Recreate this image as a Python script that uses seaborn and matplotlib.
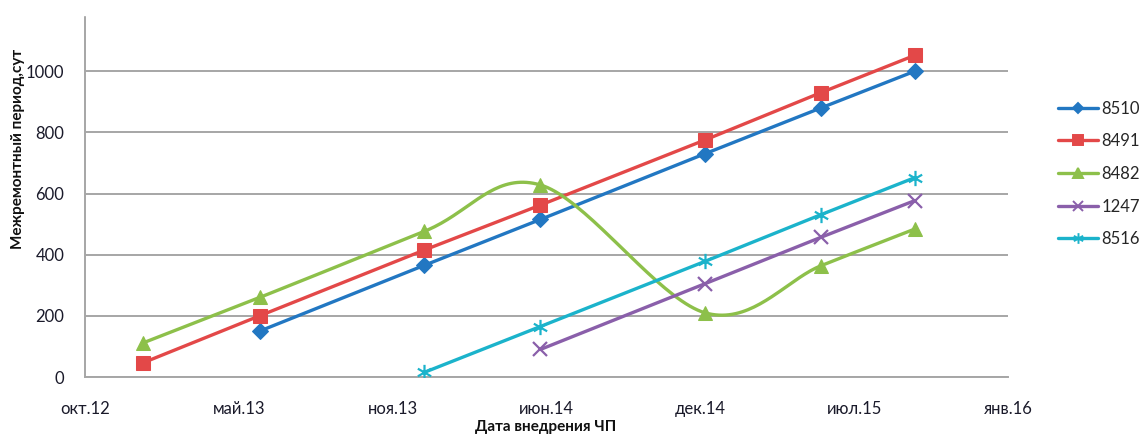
import numpy as np
import pandas as pd
import matplotlib
matplotlib.use("Agg")
import matplotlib.pyplot as plt
import matplotlib.dates as mdates
from matplotlib.path import Path
from matplotlib.lines import Line2D
import seaborn as sns

# --- data -------------------------------------------------------------
dates_8510 = ["2013-05-31", "2013-12-31", "2014-05-31", "2014-12-31", "2015-05-31", "2015-09-30"]
vals_8510 = [150, 365, 515, 730, 880, 1000]

dates_8491 = ["2012-12-31", "2013-05-31", "2013-12-31", "2014-05-31", "2014-12-31", "2015-05-31", "2015-09-30"]
vals_8491 = [47, 200, 415, 562, 775, 930, 1052]

dates_8482 = ["2012-12-31", "2013-05-31", "2013-12-31", "2014-05-31", "2014-12-31", "2015-05-31", "2015-09-30"]
vals_8482 = [112, 260, 476, 628, 210, 364, 484]

dates_1247 = ["2014-05-31", "2014-12-31", "2015-05-31", "2015-09-30"]
vals_1247 = [90, 305, 457, 577]

dates_8516 = ["2013-12-31", "2014-05-31", "2014-12-31", "2015-05-31", "2015-09-30"]
vals_8516 = [15, 165, 378, 531, 652]

axis_start = "2012-10-16"
tick_step_days = 200
tick_labels = ["окт.12", "май.13", "ноя.13", "июн.14", "дек.14", "июл.15", "янв.16"]
y_ticks = [0, 200, 400, 600, 800, 1000, 1200]

# --- styling ----------------------------------------------------------
sns.set_theme(style="white")
plt.rcParams["font.family"] = ["Lato", "DejaVu Sans"]

colors = {
    "8510": "#2277C2",
    "8491": "#E34848",
    "8482": "#8DC04A",
    "1247": "#8A5FAA",
    "8516": "#1BB3CB",
}

# six-spoke star marker (x with a vertical bar)
star_path = Path(
    [(0, -1), (0, 1), (-0.87, -0.5), (0.87, 0.5), (-0.87, 0.5), (0.87, -0.5)],
    [Path.MOVETO, Path.LINETO, Path.MOVETO, Path.LINETO, Path.MOVETO, Path.LINETO],
)

LW = 2.4
TICK_FS = 12

fig = plt.figure(figsize=(11.42, 4.37), dpi=100)
ax = fig.add_axes([85 / 1142, 60 / 437, (1008 - 85) / 1142, (377 - 10) / 437])


def frame(dates, vals):
    return pd.DataFrame({"date": pd.to_datetime(dates), "value": vals})


def smooth_curve(dates, vals, n=40):
    """Piecewise cubic Bezier through the points (Catmull-Rom style tangents)."""
    x = mdates.date2num(pd.to_datetime(dates))
    y = np.asarray(vals, dtype=float)
    P = np.column_stack([x, y])
    m = len(P)
    out = []
    t = np.linspace(0, 1, n)[:, None]
    for i in range(m - 1):
        p0 = P[i - 1] if i > 0 else P[i]
        p1, p2 = P[i], P[i + 1]
        p3 = P[i + 2] if i + 2 < m else P[i + 1]
        c1 = p1 + (p2 - p0) / 6
        c2 = p2 - (p3 - p1) / 6
        seg = ((1 - t) ** 3) * p1 + 3 * ((1 - t) ** 2) * t * c1 + 3 * (1 - t) * t ** 2 * c2 + t ** 3 * p2
        out.append(seg if i == 0 else seg[1:])
    pts = np.vstack(out)
    return pd.DataFrame({"date": mdates.num2date(pts[:, 0]), "value": pts[:, 1]})


series = [
    ("8510", dates_8510, vals_8510, "D", 8),
    ("8491", dates_8491, vals_8491, "s", 10),
    ("8482", dates_8482, vals_8482, "^", 10),
    ("1247", dates_1247, vals_1247, "x", 10),
    ("8516", dates_8516, vals_8516, star_path, 11),
]

handles = []
for name, d, v, mk, ms in series:
    c = colors[name]
    df = frame(d, v)
    if name == "8482":
        curve = smooth_curve(d, v)
        sns.lineplot(data=curve, x="date", y="value", ax=ax, color=c, lw=LW,
                     sort=False, estimator=None, zorder=3)
        sns.lineplot(data=df, x="date", y="value", ax=ax, color=c, lw=0,
                     marker=mk, markersize=ms, markeredgecolor=c,
                     estimator=None, zorder=4)
    elif mk in ("x",) or mk is star_path:
        sns.lineplot(data=df, x="date", y="value", ax=ax, color=c, lw=LW,
                     marker=mk, markersize=ms, markeredgecolor=c,
                     markeredgewidth=1.6, estimator=None, zorder=3)
    else:
        sns.lineplot(data=df, x="date", y="value", ax=ax, color=c, lw=LW,
                     marker=mk, markersize=ms, markeredgecolor=c,
                     estimator=None, zorder=3)
    handles.append(Line2D([0], [0], color=c, lw=LW, marker=mk,
                          markersize=ms * 0.7, markeredgecolor=c,
                          markeredgewidth=1.4, label=name))

# --- axes -------------------------------------------------------------
start = pd.Timestamp(axis_start)
ticks = [start + pd.Timedelta(days=tick_step_days * k) for k in range(len(tick_labels))]
ax.set_xlim(mdates.date2num(ticks[0]), mdates.date2num(ticks[-1]))
ax.set_xticks(mdates.date2num(ticks))
ax.set_xticklabels(tick_labels, fontsize=TICK_FS, color="#1a1a2a")

ax.set_ylim(0, 1200)
ax.set_yticks(y_ticks)
ax.set_yticklabels([str(t) for t in y_ticks], fontsize=TICK_FS, color="#1a1a2a")

ax.tick_params(axis="x", length=0, pad=17)
ax.tick_params(axis="y", length=0, pad=15)

ax.grid(axis="y", color="#A6A6A6", lw=1.4)
ax.grid(axis="x", visible=False)
for side in ("top", "right"):
    ax.spines[side].set_visible(False)
for side in ("left", "bottom"):
    ax.spines[side].set_color("#A6A6A6")
    ax.spines[side].set_linewidth(1.4)
ax.set_xlabel("")
ax.set_ylabel("")

fig.text(18 / 1142, 1 - 149 / 437, "Межремонтный период,сут", rotation=90,
         ha="center", va="center", fontsize=11, fontweight="bold", color="#111111")
fig.text(546 / 1142, 1 - 427 / 437, "Дата внедрения ЧП",
         ha="center", va="center", fontsize=11, fontweight="bold", color="#111111")

leg = fig.legend(handles=handles, loc="center left",
                 bbox_to_anchor=(1058 / 1142, 1 - 174 / 437), frameon=False,
                 borderpad=0, borderaxespad=0,
                 handlelength=2.4, handletextpad=0.2, labelspacing=1.0,
                 fontsize=TICK_FS)

# the top strip of the canvas is blank, clipping the uppermost tick label
fig.patches.append(plt.Rectangle((0, 1 - 15 / 437), 1, 15 / 437,
                                 transform=fig.transFigure, color="white",
                                 zorder=10))

fig.savefig("out.png", dpi=100, facecolor="white")
